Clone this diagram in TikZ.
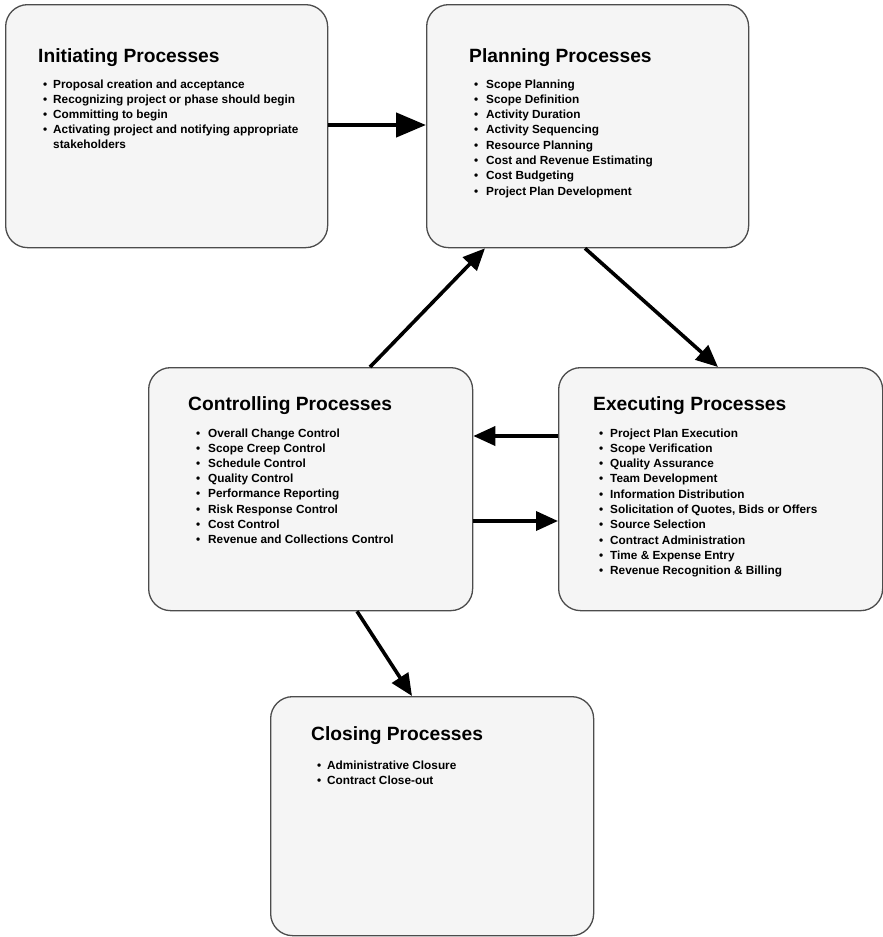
\documentclass[tikz,border=0pt]{standalone}
\usepackage{fontspec}
\setmainfont{Liberation Sans}
\usetikzlibrary{arrows.meta}
\begin{document}
\begin{tikzpicture}[x=1pt,y=-1pt,
  box/.style={draw=black!70,line width=1.3pt,fill=black!4,rounded corners=22pt,anchor=north west,inner sep=0pt},
  ttl/.style={anchor=base west,inner sep=0pt,font=\fontsize{19.2}{22}\selectfont\bfseries},
  itm/.style={anchor=base west,inner sep=0pt,font=\fontsize{11.8}{14}\selectfont\bfseries},
  arr/.style={line width=3.6pt,-{Triangle[length=22pt,width=19pt]}},
  bigarr/.style={line width=4.5pt,-{Triangle[length=30pt,width=24pt]}}]
\useasboundingbox (0,0) rectangle (883,937);
\newcommand\bl[1]{\llap{\textbullet\hspace{#1pt}}}
% boxes
\node[box,minimum width=322pt,minimum height=243pt] (ini) at (5,4) {};
\node[box,minimum width=322pt,minimum height=243pt] (pla) at (426,4) {};
\node[box,minimum width=324pt,minimum height=243pt] (ctl) at (148,367) {};
\node[box,minimum width=324pt,minimum height=243pt] (exe) at (558,367) {};
\node[box,minimum width=323pt,minimum height=239pt] (clo) at (270,696) {};
% titles
\node[ttl] (tini) at (38,62) {Initiating Processes};
\node[ttl] (tpla) at (469,62) {Planning Processes};
\node[ttl] (tctl) at (188,410) {Controlling Processes};
\node[ttl] (texe) at (593,410) {Executing Processes};
\node[ttl] (tclo) at (311,740) {Closing Processes};
% items
\foreach \t [count=\i] in {Proposal creation and acceptance,Recognizing project or phase should begin,Committing to begin,Activating project and notifying appropriate}
  \node[itm] (ini\i) at (53,{88+15.2*(\i-1)}) {\bl{6}\t};
\node[itm] (ini5) at (53,{88+15.2*4}) {stakeholders};
\foreach \t [count=\i] in {Scope Planning,Scope Definition,Activity Duration,Activity Sequencing,Resource Planning,Cost and Revenue Estimating,Cost Budgeting,Project Plan Development}
  \node[itm] (pla\i) at (486,{88+15.3*(\i-1)}) {\bl{8}\t};
\foreach \t [count=\i] in {Overall Change Control,Scope Creep Control,Schedule Control,Quality Control,Performance Reporting,Risk Response Control,Cost Control,Revenue and Collections Control}
  \node[itm] (ctl\i) at (208,{437+15.2*(\i-1)}) {\bl{8}\t};
\foreach \t [count=\i] in {Project Plan Execution,Scope Verification,Quality Assurance,Team Development,Information Distribution,{Solicitation of Quotes, Bids or Offers},Source Selection,Contract Administration,Time \& Expense Entry,Revenue Recognition \& Billing}
  \node[itm] (exe\i) at (610,{437+15.3*(\i-1)}) {\bl{7}\t};
\foreach \t [count=\i] in {Administrative Closure,Contract Close-out}
  \node[itm] (clo\i) at (327,{769+15.6*(\i-1)}) {\bl{6}\t};
% connectors
\draw[bigarr] (ini.east |- 0,125) -- (pla.west |- 0,125);
\draw[arr] (ctl.north -| 370,0) -- (pla.south -| 485,0);
\draw[arr] (pla.south -| 585,0) -- (exe.north -| 718,0);
\draw[arr] (exe.west |- 0,436) -- (ctl.east |- 0,436);
\draw[arr] (ctl.east |- 0,521) -- (exe.west |- 0,521);
\draw[arr] (ctl.south -| 357,0) -- (clo.north -| 412,0);
\end{tikzpicture}
\end{document}
